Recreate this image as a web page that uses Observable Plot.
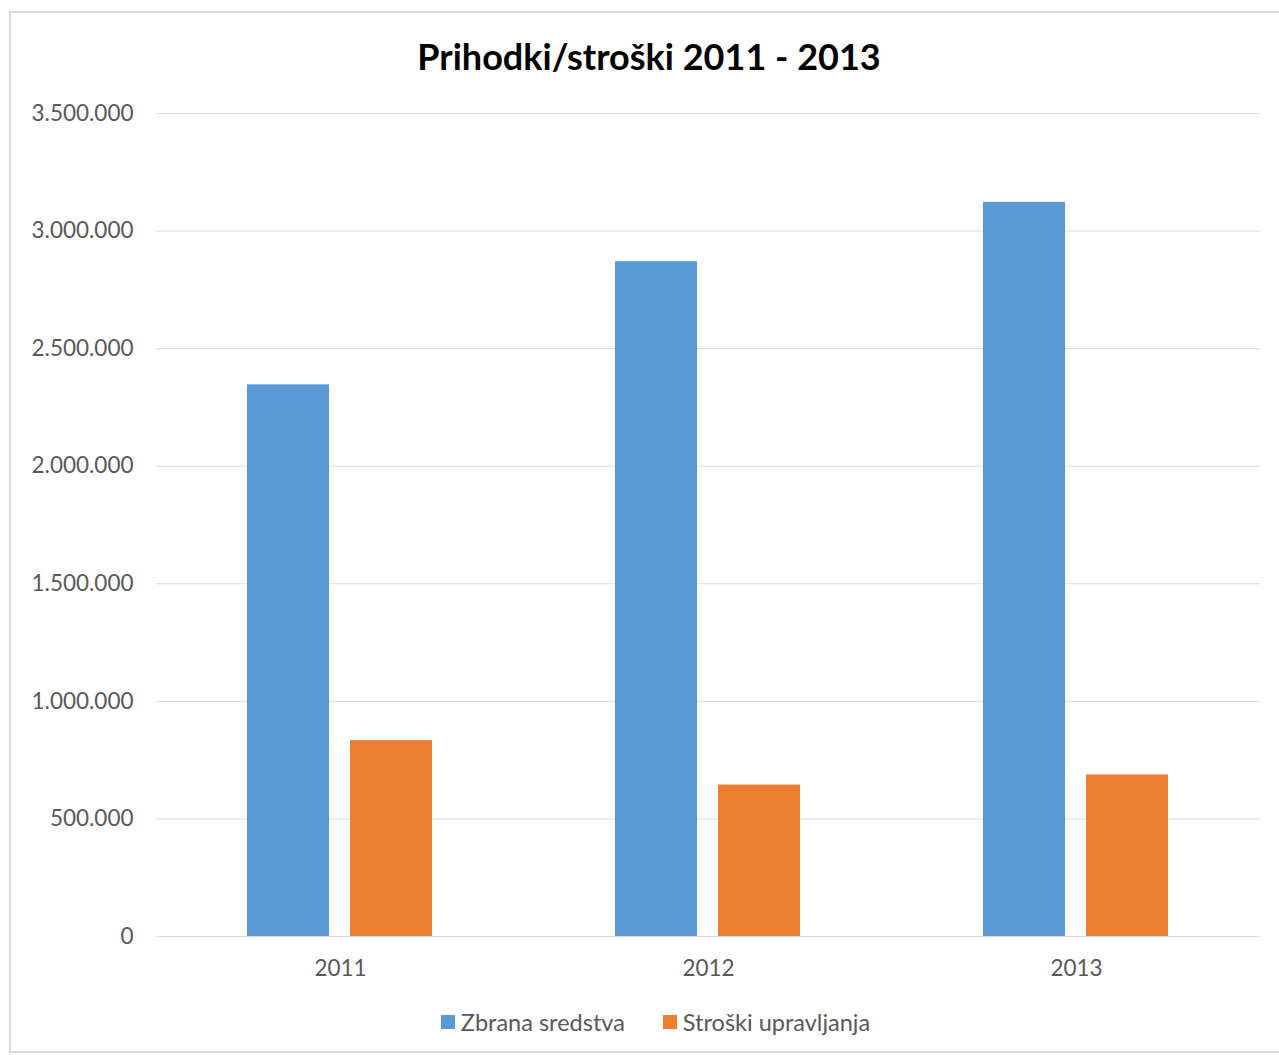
<!DOCTYPE html>
<html>
<head>
<meta charset="utf-8">
<script src="https://cdn.jsdelivr.net/npm/d3@7"></script>
<script src="https://cdn.jsdelivr.net/npm/@observablehq/plot@0.6"></script>
<style>
  html, body { margin: 0; padding: 0; background: #fff; }
  body { width: 1279px; height: 1055px; position: relative; overflow: hidden; font-family: Lato, "Open Sans", sans-serif; }
  #frame { position: absolute; left: 9px; top: 11px; width: 1290px; height: 1042px; border: 2px solid #d9d9d9; box-sizing: border-box; }
  #title { position: absolute; left: 0; width: 1298px; top: 34px; text-align: center; font-weight: 700; font-size: 36px; color: #000; line-height: 44px; }
  #chart { position: absolute; left: 0; top: 95px; }
  #legend { position: absolute; left: 0; width: 1311px; top: 1008px; display: flex; justify-content: center; gap: 38px; font-size: 23.5px; color: #595959; line-height: 28px; }
  .item { display: flex; align-items: center; gap: 6px; }
  .sw { width: 14px; height: 14px; display: inline-block; }
</style>
</head>
<body>
<div id="frame"></div>
<div id="title">Prihodki/stroški 2011 - 2013</div>
<div id="chart"></div>
<div id="legend"></div>
<script>
const years = ["2011", "2012", "2013"];
const seriesNames = ["Zbrana sredstva", "Stroški upravljanja"];
const zbranaSredstva = [2346000, 2870000, 3122000];
const stroskiUpravljanja = [833000, 644000, 687000];
const yTicks = [0, 500000, 1000000, 1500000, 2000000, 2500000, 3000000, 3500000];
const colors = ["#5b9bd5", "#ed7d31"];

const data = years.flatMap((y, i) => [
  {year: y, series: seriesNames[0], value: zbranaSredstva[i]},
  {year: y, series: seriesNames[1], value: stroskiUpravljanja[i]}
]);

const fmt = d3.formatLocale({decimal: ",", thousands: ".", grouping: [3], currency: ["", ""]}).format(",d");

const chart = Plot.plot({
  width: 1279,
  height: 891,
  marginLeft: 155,
  marginRight: 19,
  marginTop: 18,
  marginBottom: 50,
  style: {fontFamily: "Lato, 'Open Sans', sans-serif", background: "transparent"},
  fx: {domain: years, padding: 0, label: null, axis: null},
  x: {domain: seriesNames, axis: null, paddingInner: 0.202, paddingOuter: 0.872},
  y: {domain: [0, 3500000], axis: null},
  color: {domain: seriesNames, range: colors},
  marks: [
    Plot.gridY(yTicks, {stroke: "#d9d9d9", strokeOpacity: 1, strokeWidth: 1}),
    Plot.axisY(yTicks, {tickSize: 0, tickPadding: 23, tickFormat: fmt, fontSize: 22.5, fill: "#595959", label: null}),
    Plot.barY(data, {fx: "year", x: "series", y: "value", fill: "series"}),
    Plot.axisFx({anchor: "bottom", tickSize: 0, tickPadding: 24, fontSize: 22.5, fill: "#595959", label: null})
  ]
});
document.getElementById("chart").appendChild(chart);

const legend = document.getElementById("legend");
seriesNames.forEach((s, i) => {
  const item = document.createElement("div");
  item.className = "item";
  const sw = document.createElement("span");
  sw.className = "sw";
  sw.style.background = colors[i];
  const t = document.createElement("span");
  t.textContent = s;
  item.appendChild(sw);
  item.appendChild(t);
  legend.appendChild(item);
});
</script>
</body>
</html>
